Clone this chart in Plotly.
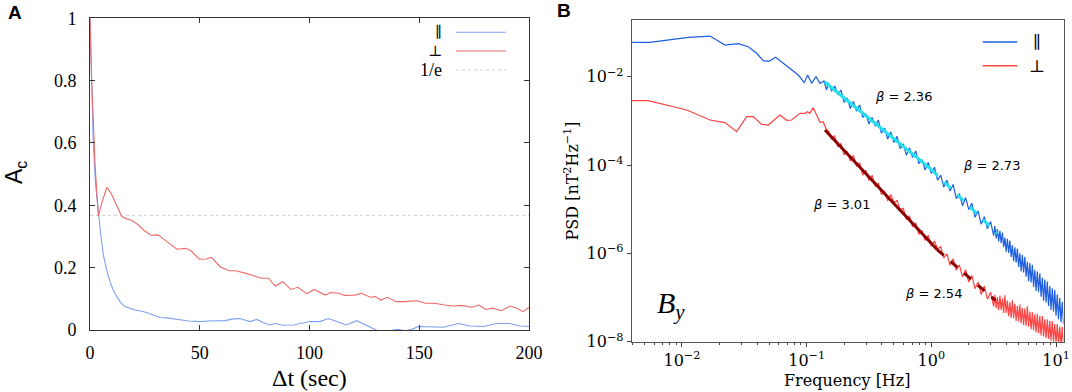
import plotly.graph_objects as go

# ---------------- Panel A : autocorrelation ----------------
t_par = [0, 0.5, 1, 1.5, 2.5, 3.8, 5, 6.1, 7.5, 9.1, 10.5, 12.2, 14, 15.9, 18, 20.5, 23, 25.8, 29, 31.9,
         35, 37.9, 41, 44.8, 47.5, 50.1, 54, 58.5, 61.5, 64.6, 68.3, 72.9, 75.9, 78.5, 82, 84.3, 88.1,
         92.6, 96, 100.2, 104.8, 108.6, 112.4, 116.9, 121.5, 126.1, 130.6, 135.2, 140.5, 143.5, 146.6,
         149.6, 154.9, 161, 167.8, 173.1, 179.2, 185.3, 191.3, 195.9, 200]
ac_par = [1.0, 0.85, 0.72, 0.60, 0.47, 0.37, 0.30, 0.24, 0.195, 0.155, 0.13, 0.107, 0.088, 0.075, 0.069,
          0.064, 0.061, 0.056, 0.047, 0.040, 0.039, 0.037, 0.033, 0.029, 0.028, 0.027, 0.029, 0.029, 0.030,
          0.035, 0.037, 0.027, 0.034, 0.025, 0.016, 0.021, 0.015, 0.016, 0.020, 0.027, 0.027, 0.037, 0.027,
          0.016, 0.030, 0.013, -0.001, -0.004, 0.002, -0.003, 0.002, 0.011, 0.011, 0.009, 0.021, 0.013,
          0.011, 0.021, 0.021, 0.013, 0.011]
t_perp = [0, 0.75, 2.3, 3.8, 5.5, 7.7, 9.5, 12, 14.5, 16.8, 19, 21.5, 24.5, 27.8, 31, 34, 37, 39.6, 43.6,
          45.9, 49.8, 53, 55.3, 59.3, 63.2, 66.4, 71.9, 78.2, 81.3, 84.4, 87.9, 91.5, 94.7, 98.9, 102,
          107.2, 109.6, 113.5, 115.9, 120.6, 123.7, 127.7, 130, 132.4, 135.5, 139.5, 143.4, 148.9, 152.8,
          156.8, 161.5, 166.2, 169.3, 174, 177.2, 180.3, 183.5, 187.4, 191.4, 194.5, 197.3, 200]
ac_perp = [1.0, 0.80, 0.53, 0.366, 0.41, 0.458, 0.44, 0.40, 0.364, 0.356, 0.352, 0.34, 0.32, 0.304, 0.305,
           0.289, 0.272, 0.259, 0.262, 0.255, 0.227, 0.228, 0.233, 0.203, 0.19, 0.19, 0.18, 0.166, 0.166,
           0.141, 0.155, 0.13, 0.137, 0.116, 0.13, 0.112, 0.12, 0.118, 0.111, 0.112, 0.118, 0.105, 0.107,
           0.096, 0.105, 0.091, 0.091, 0.094, 0.086, 0.086, 0.080, 0.077, 0.079, 0.073, 0.08, 0.066, 0.07,
           0.062, 0.077, 0.07, 0.059, 0.073]
inv_e = 0.3679
t_span = [0, 200]

# ---------------- Panel B : PSD (log10 values) ----------------
logf_par_low = [-2.403, -2.257, -1.949, -1.775, -1.655, -1.548, -1.468, -1.401, -1.348, -1.302, -1.249,
                -1.188, -1.12, -1.067, -1.019, -0.992, -0.960, -0.925, -0.893, -0.861, -0.840]
logpsd_par_low = [-1.221, -1.221, -1.108, -1.079, -1.283, -1.253, -1.321, -1.47, -1.638, -1.651, -1.56,
                  -1.697, -1.848, -1.962, -2.135, -1.962, -2.15, -2.0, -2.15, -2.097, -2.30]
logf_perp_low = [-2.403, -2.27, -1.962, -1.775, -1.655, -1.561, -1.481, -1.428, -1.361, -1.308, -1.214,
                 -1.16, -1.12, -1.054, -1.014, -0.992, -0.974, -0.947, -0.920, -0.893, -0.867, -0.840]
logpsd_perp_low = [-2.543, -2.543, -2.754, -2.98, -3.04, -3.245, -2.905, -2.905, -3.079, -3.094, -2.867,
                   -2.988, -2.98, -2.83, -2.83, -2.792, -2.83, -2.701, -2.867, -3.033, -3.018, -3.207]
logf_hi = [-0.825, -0.8, -0.775, -0.75, -0.725, -0.7, -0.675, -0.65, -0.625, -0.6, -0.575, -0.55, -0.525,
           -0.5, -0.475, -0.45, -0.425, -0.4, -0.375, -0.35, -0.325, -0.3, -0.275, -0.25, -0.225, -0.2,
           -0.175, -0.15, -0.125, -0.1, -0.075, -0.05, -0.025, 0.0, 0.025, 0.05, 0.075, 0.1, 0.125, 0.15,
           0.175, 0.2, 0.225, 0.25, 0.275, 0.3, 0.325, 0.35, 0.375, 0.4, 0.425, 0.45, 0.475, 0.5,
           0.51, 0.52, 0.53, 0.54, 0.55, 0.56, 0.57, 0.58, 0.59, 0.60, 0.61, 0.62, 0.63, 0.64, 0.65, 0.66,
           0.67, 0.68, 0.69, 0.70, 0.71, 0.72, 0.73, 0.74, 0.75, 0.76, 0.77, 0.78, 0.79, 0.80, 0.81, 0.82,
           0.83, 0.84, 0.85, 0.86, 0.87, 0.88, 0.89, 0.90, 0.91, 0.92, 0.93, 0.94, 0.95, 0.96, 0.97, 0.98,
           0.99, 1.00, 1.01, 1.02, 1.03, 1.04, 1.05, 1.06]
logpsd_par_hi = [-2.14, -2.33, -2.21, -2.41, -2.30, -2.58, -2.48, -2.72, -2.56, -2.78, -2.64, -2.92, -2.84,
                 -3.07, -2.92, -3.12, -2.98, -3.28, -3.16, -3.41, -3.25, -3.49, -3.35, -3.63, -3.52, -3.78,
                 -3.61, -3.83, -3.68, -3.97, -3.88, -4.11, -3.94, -4.19, -4.05, -4.34, -4.23, -4.50, -4.34,
                 -4.59, -4.44, -4.76, -4.65, -4.92, -4.74, -5.01, -4.86, -5.18, -5.04, -5.34, -5.17, -5.44,
                 -5.28, -5.60,
                 -5.38, -5.66, -5.45, -5.73, -5.49, -5.77, -5.53, -5.86, -5.64, -5.96, -5.67, -5.99, -5.71,
                 -6.08, -5.82, -6.18, -5.86, -6.21, -5.89, -6.31, -6.00, -6.41, -6.04, -6.43, -6.08, -6.53,
                 -6.19, -6.63, -6.22, -6.66, -6.26, -6.76, -6.37, -6.85, -6.41, -6.88, -6.45, -6.98, -6.55,
                 -7.07, -6.59, -7.11, -6.64, -7.19, -6.74, -7.28, -6.79, -7.32, -6.83, -7.41, -6.93, -7.49,
                 -7.01, -7.56, -7.10, -7.60]
logpsd_perp_hi = [-3.23, -3.41, -3.34, -3.59, -3.51, -3.77, -3.69, -3.91, -3.78, -4.03, -3.95, -4.23, -4.12,
                  -4.35, -4.23, -4.49, -4.41, -4.67, -4.59, -4.81, -4.67, -4.85, -4.80, -5.01, -4.98, -5.23,
                  -5.15, -5.40, -5.31, -5.57, -5.48, -5.71, -5.59, -5.84, -5.72, -5.90, -5.85, -6.10, -6.01,
                  -6.27, -6.12, -6.38, -6.26, -6.53, -6.37, -6.65, -6.50, -6.80, -6.65, -6.93, -6.74, -7.04,
                  -6.88, -7.20,
                  -6.94, -7.24, -6.99, -7.28, -6.96, -7.28, -7.02, -7.35, -6.95, -7.35, -7.07, -7.42, -7.11,
                  -7.46, -7.06, -7.46, -7.14, -7.53, -7.19, -7.54, -7.16, -7.58, -7.24, -7.62, -7.25, -7.64,
                  -7.20, -7.66, -7.32, -7.72, -7.33, -7.74, -7.38, -7.79, -7.37, -7.81, -7.42, -7.86, -7.42,
                  -7.88, -7.49, -7.92, -7.49, -7.94, -7.53, -7.98, -7.53, -8.00, -7.60, -8.04, -7.60, -8.06,
                  -7.66, -8.10, -7.67, -8.12]
# power-law fit segments (log10 f, log10 PSD) end points
fit_par1_logf = [-0.855, 0.0]
fit_par1_logpsd = [-2.12, -4.10]
fit_par2_logf = [0.0, 0.53]
fit_par2_logpsd = [-4.10, -5.55]
fit_perp1_logf = [-0.853, 0.046]
fit_perp1_logpsd = [-3.207, -5.913]
fit_perp2_logf = [0.046, 0.516]
fit_perp2_logpsd = [-5.913, -7.07]
beta_labels = ["2.36", "2.73", "3.01", "2.54"]
beta_logf = [-0.22, 0.486, -0.717, 0.021]
beta_logpsd = [-2.453, -4.015, -4.898, -6.904]

p10 = lambda arr: [10 ** v for v in arr]

W, H = 1072, 392
px = lambda x: x / W
py = lambda y: 1 - y / H

A_BLUE, A_RED = "#7fa0f0", "#f06a6a"
B_BLUE, B_RED = "#1f5fdf", "#ff4444"

fig = go.Figure()
# Panel A
fig.add_trace(go.Scatter(x=t_span, y=[inv_e, inv_e], mode="lines", xaxis="x", yaxis="y",
                         line=dict(color="#cfcfcf", width=1, dash="dot"), showlegend=False))
fig.add_trace(go.Scatter(x=t_par, y=ac_par, mode="lines", xaxis="x", yaxis="y",
                         line=dict(color=A_BLUE, width=1.1), showlegend=False))
fig.add_trace(go.Scatter(x=t_perp, y=ac_perp, mode="lines", xaxis="x", yaxis="y",
                         line=dict(color=A_RED, width=1.1), showlegend=False))
# Panel B
fig.add_trace(go.Scatter(x=p10(logf_par_low + logf_hi), y=p10(logpsd_par_low + logpsd_par_hi),
                         mode="lines", xaxis="x2", yaxis="y2",
                         line=dict(color=B_BLUE, width=1.2), showlegend=False))
fig.add_trace(go.Scatter(x=p10(logf_perp_low + logf_hi), y=p10(logpsd_perp_low + logpsd_perp_hi),
                         mode="lines", xaxis="x2", yaxis="y2",
                         line=dict(color=B_RED, width=1.2), showlegend=False))
for lf, lp, col, dash in [(fit_par1_logf, fit_par1_logpsd, "#22e0ee", "solid"),
                          (fit_par2_logf, fit_par2_logpsd, "#22e0ee", "dash"),
                          (fit_perp1_logf, fit_perp1_logpsd, "#8b0000", "solid"),
                          (fit_perp2_logf, fit_perp2_logpsd, "#8b0000", "dash")]:
    fig.add_trace(go.Scatter(x=p10(lf), y=p10(lp), mode="lines", xaxis="x2", yaxis="y2",
                             line=dict(color=col, width=3, dash=dash), showlegend=False))

serifA = "Liberation Serif"
serifB = "DejaVu Serif"

fig.update_layout(
    template="none",
    width=W, height=H, margin=dict(l=0, r=0, t=0, b=0, pad=0, autoexpand=False),
    paper_bgcolor="white", plot_bgcolor="white", showlegend=False,
    xaxis=dict(domain=[px(90), px(529)], range=[0, 200], tickvals=[0, 50, 100, 150, 200],
               anchor="y", automargin=False,
               ticks="inside", ticklen=5, tickcolor="#333", showline=True, linecolor="#333",
               linewidth=1, mirror="ticks", showgrid=False, zeroline=False,
               tickfont=dict(family=serifA, size=18, color="black"), ticklabelstandoff=6),
    yaxis=dict(domain=[py(330), py(18.3)], range=[0, 1], tickvals=[0, 0.2, 0.4, 0.6, 0.8, 1],
               ticktext=["0", "0.2", "0.4", "0.6", "0.8", "1"], anchor="x", automargin=False,
               ticks="inside", ticklen=5, tickcolor="#333", showline=True, linecolor="#333",
               linewidth=1, mirror="ticks", showgrid=False, zeroline=False,
               tickfont=dict(family=serifA, size=18, color="black"), ticklabelstandoff=9),
    xaxis2=dict(domain=[px(631.7), px(1063.5)], type="log", range=[-2.403, 1.06],
                anchor="y2", automargin=False,
                tickvals=[0.01, 0.1, 1, 10],
                ticktext=["10<sup>−2</sup>", "10<sup>−1</sup>", "10<sup>0</sup>", "10<sup>1</sup>"],
                ticks="outside", ticklen=4, tickcolor="#444", showline=True, linecolor="#555",
                linewidth=1.2, mirror=True, showgrid=False, zeroline=False,
                minor=dict(ticks="outside", ticklen=2, tickcolor="#444", showgrid=False,
                           tickvals=[m * 10 ** e for e in range(-3, 2) for m in range(2, 10)]),
                tickfont=dict(family=serifB, size=16, color="black")),
    yaxis2=dict(domain=[py(341.7), py(20)], type="log", range=[-8, -0.716],
                anchor="x2", automargin=False,
                tickvals=[1e-2, 1e-4, 1e-6, 1e-8],
                ticktext=["10<sup>−2</sup>", "10<sup>−4</sup>", "10<sup>−6</sup>", "10<sup>−8</sup>"],
                ticks="outside", ticklen=4, tickcolor="#444", showline=True, linecolor="#555",
                linewidth=1.2, mirror=True, showgrid=False, zeroline=False,
                tickfont=dict(family=serifB, size=16, color="black")),
)

ann = []


def add_text(text, x, y, size, family, xref="paper", yref="paper", angle=0, xanchor="center"):
    ann.append(dict(text=text, x=x, y=y, xref=xref, yref=yref, showarrow=False, textangle=angle,
                    xanchor=xanchor, yanchor="middle",
                    font=dict(family=family, size=size, color="black")))


add_text("<b>A</b>", px(15), py(12), 19, "Liberation Sans")
add_text("<b>B</b>", px(564), py(11), 19, "Liberation Sans")
add_text("A<sub>c</sub>", px(15), py(173), 23, "Liberation Sans", angle=-90)
add_text("Δt (sec)", px(309.5), py(378), 24, serifA)
add_text("PSD [nT<sup>2</sup>Hz<sup>−1</sup>]", px(571.7), py(180.8), 16, serifB, angle=-90)
add_text("Frequency [Hz]", px(847.6), py(380), 16, serifB)
for lab, lf, lp in zip(beta_labels, beta_logf, beta_logpsd):
    add_text("<i>β</i> = " + lab, lf, lp, 13, "DejaVu Sans", xref="x2", yref="y2")
add_text("<i>B<sub>y</sub></i>", -2.088, -7.17, 30, serifA, xref="x2", yref="y2")

# legends (text + line samples)
shapes = []
legA = [("∥", A_BLUE, 32.3, "solid"), ("⊥", A_RED, 51, "solid"), ("1/e", "#cfcfcf", 70, "dot")]
for txt, col, yy, dash in legA:
    if txt == "1/e":
        add_text(txt, px(443.5), py(yy), 18, serifA, xanchor="right")
    else:
        add_text(txt, px(443.5), py(yy), 15, "DejaVu Serif", xanchor="right")
    shapes.append(dict(type="line", xref="paper", yref="paper", x0=px(456), x1=px(506), y0=py(yy),
                       y1=py(yy), line=dict(color=col, width=1.1, dash=dash)))
legB = [("∥", B_BLUE, 42), ("⊥", B_RED, 65.7)]
for txt, col, yy in legB:
    add_text(txt, px(1037), py(yy), 17, "DejaVu Serif")
    shapes.append(dict(type="line", xref="paper", yref="paper", x0=px(982.7), x1=px(1017.3),
                       y0=py(yy), y1=py(yy), line=dict(color=col, width=1.5)))
fig.update_layout(annotations=ann, shapes=shapes)

fig.write_html("out.html", config={"displayModeBar": False},
               post_script="document.body.style.margin='0';document.body.style.overflow='hidden';")
